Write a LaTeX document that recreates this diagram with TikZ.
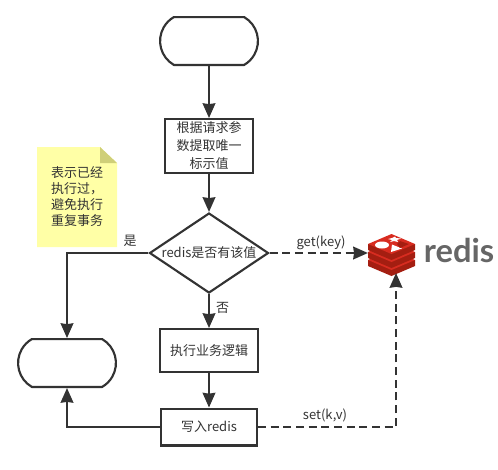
\documentclass[tikz,border=0pt]{standalone}
\usepackage{fontspec}
\setmainfont{Noto Sans CJK SC}
\newfontfamily\logofont{Lato}
\usetikzlibrary{arrows.meta}
\usetikzlibrary{shapes.misc}
\usetikzlibrary{shapes.geometric}
\definecolor{linegray}{HTML}{333333}
\definecolor{notefill}{HTML}{FFFFA6}
\definecolor{notefold}{HTML}{CFCF78}
\definecolor{redisface}{HTML}{D82C20}
\definecolor{redisside}{HTML}{A41E11}
\tikzset{
	flowbox/.style = {draw=linegray, line width=1.6pt, fill=white, inner sep=0pt, align=center, text=linegray, font=\fontsize{9.75pt}{13.5pt}\selectfont},
	procbox/.style = {flowbox, rectangle, minimum width=#1*0.75pt-1.6pt, minimum height=45*0.75pt-1.6pt},
	termbox/.style = {flowbox, rounded rectangle, rounded rectangle arc length=120, minimum width=100*0.75pt-1.6pt, minimum height=50*0.75pt-1.6pt},
	flowline/.style = {draw=linegray, line width=1.6pt, -{Stealth[length=11pt,width=9.5pt,inset=0.6pt]}},
	dashline/.style = {flowline, dash pattern=on 6pt off 3.5pt},
	flowlabel/.style = {text=linegray, inner sep=0pt, font=\fontsize{9.75pt}{11pt}\selectfont}
}
\begin{document}
\begin{tikzpicture}[x=0.75pt, y=-0.75pt]
	\useasboundingbox (0,0) rectangle (498,469);
	% note
	\fill[notefill] (37,147) -- (100,147) -- (117,163) -- (117,247) -- (37,247) -- cycle;
	\fill[notefold] (100,147) -- (117,163) -- (100,163) -- cycle;
	\node[flowlabel, align=left, font=\fontsize{9.75pt}{12pt}\selectfont] (note) at (77,197) {表示已经\\执行过，\\避免执行\\重复事务};
	% flow
	\node[termbox] (start) at (209,41) {};
	\node[procbox=90, minimum height=56*0.75pt-1.6pt] (param) at (209,146) {根据请求参\\数提取唯一\\标示值};
	\node[flowbox, diamond, aspect=1.5, inner sep=0pt, minimum width=119*0.75pt, minimum height=80*0.75pt] (check) at (209,253) {};
	\node[flowlabel] (checktext) at (209,253) {redis是否有该值};
	\node[procbox=100] (logic) at (209,350.5) {执行业务逻辑};
	\node[procbox=98, minimum height=39*0.75pt-1.6pt] (write) at (209,427) {写入redis};
	\node[termbox] (finish) at (67,363) {};
	% logo
	\node[minimum width=35pt, minimum height=29pt, inner sep=0pt] (logo) at (391.5,253) {};
	\coordinate (logoin) at (396,273);
	\foreach \y in {16,8,0}
	{
		\fill[redisside] (368,244+\y) -- (368,250+\y) -- (391.5,260+\y) -- (415,250+\y) -- (415,244+\y) -- cycle;
		\fill[redisface] (368,244+\y) -- (391.5,234+\y) -- (415,244+\y) -- (391.5,254+\y) -- cycle;
	}
	\fill[white] (382,245) ellipse (7 and 3.5);
	\fill[white] (391,252) -- (402,248.5) -- (392,244.5) -- cycle;
	\fill[white] (392,238) -- (395,236.5) -- (396,238) -- (401,238.5) -- (397,240) -- (398,242) -- (394,241) -- (390,242) -- (392,240) -- (388,239) -- cycle;
	\fill[redisside] (400,241) -- (409,244) -- (400,248) -- (397,244) -- cycle;
	\node[inner sep=0pt, text=black!60, font=\logofont\bfseries\fontsize{24.5pt}{24.5pt}\selectfont] (logotext) at (459,250) {redis};
	% connectors
	\draw[flowline] (start) -- (param);
	\draw[flowline] (param) -- (check);
	\draw[flowline] (check) -- node[flowlabel, right=4.5pt, pos=0.42] (nolabel) {否} (logic);
	\draw[flowline] (logic) -- (write);
	\draw[flowline] (check.west) -| (finish.north);
	\draw[flowline] (write.west) -| (finish.south);
	\draw[dashline] (check.east) -- (logo.west);
	\draw[dashline] (write.east) -| (logoin);
	\node[flowlabel] (yeslabel) at (130,241) {是};
	\node[flowlabel] (getlabel) at (321,243) {get(key)};
	\node[flowlabel] (setlabel) at (325,415) {set(k,v)};
\end{tikzpicture}
\end{document}
